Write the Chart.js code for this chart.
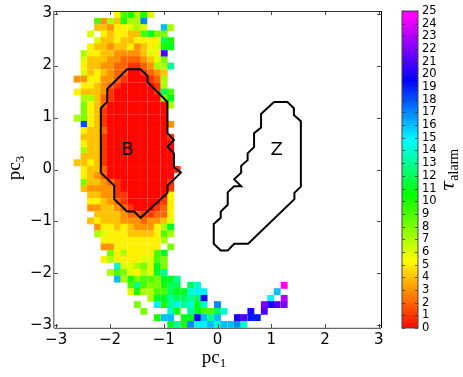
<!DOCTYPE html>
<html>
<head>
<meta charset="utf-8">
<title>tau alarm map</title>
<script src="https://cdn.jsdelivr.net/npm/chart.js@4/dist/chart.umd.min.js"></script>
<style>
  html, body { margin: 0; padding: 0; background: #fff; }
  #wrap { position: relative; width: 463px; height: 377px; overflow: hidden; }
  canvas { position: absolute; left: 0; top: 0; }
</style>
</head>
<body>
<div id="wrap">
  <canvas id="mapChart" width="463" height="377"></canvas>
  <canvas id="barChart" width="463" height="377"></canvas>
</div>
<script>
const _ = null;

const pc1Bins = [-2.98,-2.85,-2.73,-2.61,-2.48,-2.36,-2.23,-2.11,-1.99,-1.86,-1.74,-1.61,-1.49,-1.37,-1.24,-1.12,-.99,-.87,-.75,-.62,-.5,-.37,-.25,-.13,0,.12,.25,.37,.49,.62,.74,.87,.99,1.11,1.24,1.36,1.49,1.61,1.73,1.86,1.98,2.11,2.23,2.35,2.48,2.6,2.73,2.85,2.98];
const pc3Bins = [2.98,2.85,2.73,2.61,2.48,2.36,2.23,2.11,1.99,1.86,1.74,1.61,1.49,1.37,1.24,1.12,.99,.87,.75,.62,.5,.37,.25,.13,0,-.12,-.25,-.37,-.49,-.62,-.74,-.87,-.99,-1.11,-1.24,-1.36,-1.49,-1.61,-1.73,-1.86,-1.98,-2.11,-2.23,-2.35,-2.48,-2.6,-2.73,-2.85,-2.98];

// one row per pc3 bin (top to bottom), one entry per pc1 bin
const tauGrid = [
  [_,_,_,_,_,_,_,_,_,5,9,10,7,10,6],
  [_,_,_,_,_,_,9,3,7,4,10,7,7,17],
  [_,_,_,_,_,_,4,4,3,5,5,6,7,6,_,_,16,7],
  [_,_,_,_,_,6,_,5,4,5,5,4,4,9,11,8,8],
  [_,_,_,_,_,_,6,4,4,5,4,4,5,5,5,5,12,10],
  [_,_,_,_,_,5,4,4,3,4,4,5,3,4,5,6,10,11],
  [_,_,_,_,7,5,5,4,4,3,3,3,3,4,6,5,21],
  [_,_,_,_,6,4,4,4,3,3,2,2,2,3,4,6,8],
  [_,_,_,_,5,4,4,3,3,2,2,1,1,2,3,7,7,13],
  [_,_,_,_,6,4,5,4,3,2,2,0,0,1,2,3,4],
  [_,_,_,3,3,5,5,3,3,2,1,0,0,0,1,2,7],
  [_,_,_,_,5,5,4,3,2,1,0,0,0,0,0,1,7],
  [_,_,_,5,4,4,4,3,1,0,0,0,0,0,0,1,12,9],
  [_,_,_,_,7,7,4,2,1,0,0,0,0,0,0,0,8,11],
  [_,_,_,_,8,5,4,2,0,0,0,0,0,0,0,0,0,7],
  [_,_,_,_,8,5,4,1,0,0,0,0,0,0,0,0,0],
  [_,_,_,7,8,5,4,1,0,0,0,0,0,0,0,0,0],
  [_,_,_,_,18,5,4,1,0,0,0,0,0,0,0,0,0,3],
  [_,_,_,_,5,4,4,2,0,0,0,0,0,0,0,0,0],
  [_,_,_,_,4,4,4,1,0,0,0,0,0,0,0,0,0,1],
  [_,_,_,_,5,4,4,1,0,0,0,0,0,0,0,0,0,0],
  [_,_,_,_,7,4,4,1,0,0,0,0,0,0,0,0,0,0],
  [_,_,_,_,4,4,4,1,0,0,0,0,0,0,0,0,0,0],
  [_,_,_,4,4,5,4,1,0,0,0,0,0,0,0,0,0,0],
  [_,_,_,_,5,4,4,2,0,0,0,0,0,0,0,0,0,0,1],
  [_,_,_,_,5,4,3,2,0,0,0,0,0,0,0,0,0,0],
  [_,_,_,_,8,4,4,3,2,1,0,0,0,0,0,0,0,1],
  [_,_,_,_,4,3,3,3,3,1,0,0,0,0,0,0,0,1],
  [_,_,_,_,_,4,4,3,3,1,1,0,0,0,0,0,0,5],
  [_,_,_,_,_,5,5,4,3,2,1,0,0,0,0,0,1,5],
  [_,_,_,_,_,3,3,4,4,3,2,1,0,0,0,1,2,5],
  [_,_,_,_,_,_,4,4,4,4,3,2,2,1,1,2,2,5],
  [_,_,_,_,_,4,5,4,4,4,3,3,3,2,3,3,4,6],
  [_,_,_,_,_,_,3,5,5,4,5,4,3,3,3,5,7,11],
  [_,_,_,_,_,_,7,6,5,5,5,4,4,4,4,5,9,7],
  [_,_,_,_,_,_,_,5,5,5,5,5,5,5,5,5,7],
  [_,_,_,_,_,_,_,3,3,5,5,5,5,5,5,5,_,8],
  [_,_,_,_,_,_,_,_,8,5,7,5,5,5,5,9,11],
  [_,_,_,_,_,_,_,5,7,5,5,5,5,6,6,9,8],
  [_,_,_,_,_,_,_,_,_,14,6,6,7,8,6,11,8],
  [_,_,_,_,_,_,_,_,7,9,8,6,5,7,6,11,13],
  [_,_,_,_,_,_,_,_,_,16,7,10,8,9,9,8,11,11,13],
  [_,_,_,_,_,_,_,_,_,_,_,9,13,9,8,8,10,12,12,_,12,14,_,_,_,_,_,_,_,_,_,_,_,_,25],
  [_,_,_,_,_,_,_,_,_,_,_,6,10,7,7,9,9,12,11,11,14,15,15,_,_,_,_,_,_,_,_,_,_,16],
  [_,_,_,_,_,_,_,_,_,_,_,_,_,_,7,11,11,13,12,12,13,12,20,_,_,_,_,_,_,_,_,_,15,_,23],
  [_,_,_,_,_,_,_,_,_,_,_,_,8,_,_,15,10,13,15,13,14,11,14,_,17,_,_,_,_,_,_,22,20,21,22],
  [_,_,_,_,_,_,_,_,_,_,_,_,_,8,_,_,_,14,10,_,13,11,9,9,12,14,_,_,_,20,_,21],
  [_,_,_,_,_,_,_,_,_,_,_,_,_,_,_,10,16,16,_,11,11,20,16,13,16,_,_,20,21,19,19],
  [_,_,_,_,_,_,_,_,_,_,_,_,_,_,_,_,_,11,13,10,17,15,15,16,14,16,16,17,14]
];

const contourBX = [-1.68,-1.43,-1.3,-1.3,-.93,-.93,-.81,-.93,-.81,-.81,-.68,-.93,-.93,-1.43,-1.55,-1.68,-1.92,-1.92,-2.17,-2.17,-2.05,-2.05,-1.68];
const contourBY = [1.93,1.93,1.8,1.68,1.3,.7,.57,.44,.31,.05,-.06,-.31,-.45,-.93,-.81,-.81,-.57,-.31,-.06,1.18,1.3,1.55,1.93];
const contourZX = [1.05,1.3,1.42,1.42,1.55,1.55,1.43,1.43,.57,.31,.19,.06,-.07,-.07,.06,.06,.19,.19,.31,.44,.31,.44,.44,.56,.56,.68,.68,.81,.81,1.05];
const contourZY = [1.3,1.3,1.18,1.05,.93,-.33,-.45,-.57,-1.43,-1.43,-1.56,-1.56,-1.43,-1.05,-.93,-.81,-.68,-.44,-.32,-.32,-.19,-.06,.07,.18,.31,.43,.7,.81,1.07,1.3];

const axisTicks = [-3, -2, -1, 0, 1, 2, 3];
const barTicks = [0,1,2,3,4,5,6,7,8,9,10,11,12,13,14,15,16,17,18,19,20,21,22,23,24,25];

// colour map: tau value -> rgb
const mapValues = [0, 5.3, 10.5, 14.8, 19.5, 24.5, 25];
const mapColors = [[255,6,0],[255,255,0],[0,255,0],[0,255,255],[0,0,255],[255,0,255],[255,0,255]];

function tauColor(v) {
  let i = 0;
  while (i < mapValues.length - 2 && v > mapValues[i + 1]) i++;
  const t = (v - mapValues[i]) / (mapValues[i + 1] - mapValues[i]);
  const c = mapColors[i].map((a, k) => Math.round(a + (mapColors[i + 1][k] - a) * t));
  return `rgb(${c[0]},${c[1]},${c[2]})`;
}

const cellPoints = [];
const cellColors = [];
tauGrid.forEach((row, r) => {
  row.forEach((v, c) => {
    if (v === null) return;
    cellPoints.push({ x: pc1Bins[c], y: pc3Bins[r] });
    cellColors.push(tauColor(v));
  });
});

const toPoints = (xs, ys) => xs.map((x, i) => ({ x, y: ys[i] }));
const minusLabel = (v) => String(v).replace('-', '\u2212');

function drawMath(ctx, x, y, rot, base, baseFont, sub, subFont, drop) {
  ctx.save();
  ctx.translate(x, y);
  ctx.rotate(rot);
  ctx.fillStyle = '#000';
  ctx.textBaseline = 'alphabetic';
  ctx.textAlign = 'left';
  ctx.font = baseFont;
  const w1 = ctx.measureText(base).width;
  ctx.font = subFont;
  const w2 = ctx.measureText(sub).width;
  const start = -(w1 + w2) / 2;
  ctx.font = baseFont;
  ctx.fillText(base, start, 0);
  ctx.font = subFont;
  ctx.fillText(sub, start + w1, drop);
  ctx.restore();
}

// inward ticks and the box round the map, labels B and Z, axis names
const mapFrame = {
  id: 'mapFrame',
  afterDatasetsDraw(chart) {
    const { ctx, chartArea: a, scales: { x, y } } = chart;
    ctx.save();
    ctx.strokeStyle = '#222';
    ctx.lineWidth = 0.8;
    ctx.beginPath();
    axisTicks.forEach((t) => {
      const px = Math.round(x.getPixelForValue(t)) + 0.5;
      const py = Math.round(y.getPixelForValue(t)) + 0.5;
      ctx.moveTo(px, a.bottom); ctx.lineTo(px, a.bottom - 4);
      ctx.moveTo(px, a.top); ctx.lineTo(px, a.top + 4);
      ctx.moveTo(a.left, py); ctx.lineTo(a.left + 4, py);
      ctx.moveTo(a.right, py); ctx.lineTo(a.right - 4, py);
    });
    ctx.stroke();
    ctx.lineWidth = 1;
    ctx.strokeStyle = '#333';
    ctx.beginPath(); ctx.moveTo(a.left, a.top + 0.5); ctx.lineTo(a.right, a.top + 0.5); ctx.stroke();
    ctx.strokeStyle = '#000';
    ctx.beginPath(); ctx.moveTo(a.right + 0.5, a.top); ctx.lineTo(a.right + 0.5, a.bottom); ctx.stroke();
    ctx.strokeStyle = '#666';
    ctx.lineWidth = 1.3;
    ctx.beginPath(); ctx.moveTo(a.left, a.bottom + 0.3); ctx.lineTo(a.right, a.bottom + 0.3); ctx.stroke();
    ctx.strokeStyle = '#808080';
    ctx.lineWidth = 1.5;
    ctx.beginPath(); ctx.moveTo(a.left - 0.3, a.top); ctx.lineTo(a.left - 0.3, a.bottom); ctx.stroke();

    ctx.fillStyle = '#000';
    ctx.font = '18px "DejaVu Sans"';
    ctx.textAlign = 'center';
    ctx.textBaseline = 'middle';
    ctx.fillText('B', x.getPixelForValue(-1.67), y.getPixelForValue(0.37));
    ctx.fillText('Z', x.getPixelForValue(1.1), y.getPixelForValue(0.37));
    ctx.restore();

    drawMath(ctx, 214, 363, 0, 'pc', '19px "Liberation Serif"', '1', '13px "Liberation Serif"', 4);
    drawMath(ctx, 20, 168, -Math.PI / 2, 'pc', '19px "Liberation Serif"', '3', '13px "Liberation Serif"', 4);
  }
};

new Chart(document.getElementById('mapChart'), {
  type: 'scatter',
  data: {
    datasets: [
      {
        label: 'tau',
        order: 2,
        data: cellPoints,
        pointStyle: 'rect',
        pointRadius: 4.85,
        pointBorderWidth: 0,
        pointBackgroundColor: cellColors,
        showLine: false
      },
      {
        label: 'B',
        order: 1,
        data: toPoints(contourBX, contourBY),
        showLine: true,
        pointRadius: 0,
        borderColor: '#000',
        borderWidth: 2,
        tension: 0
      },
      {
        label: 'Z',
        order: 1,
        data: toPoints(contourZX, contourZY),
        showLine: true,
        pointRadius: 0,
        borderColor: '#000',
        borderWidth: 2,
        tension: 0
      }
    ]
  },
  options: {
    responsive: false,
    animation: false,
    events: [],
    layout: { padding: { left: 0, right: 82, top: 11, bottom: 0 } },
    plugins: { legend: { display: false }, tooltip: { enabled: false } },
    scales: {
      x: {
        type: 'linear',
        min: -3.04,
        max: 3.04,
        afterBuildTicks: (s) => { s.ticks = axisTicks.map((value) => ({ value })); },
        afterFit: (s) => { s.height = 49; },
        grid: { display: false, drawTicks: false },
        border: { display: false },
        ticks: {
          color: '#000',
          padding: 3,
          maxRotation: 0,
          font: { family: '"DejaVu Sans"', size: 15 },
          callback: minusLabel
        }
      },
      y: {
        type: 'linear',
        min: -3.05,
        max: 3.05,
        afterBuildTicks: (s) => { s.ticks = axisTicks.map((value) => ({ value })); },
        afterFit: (s) => { s.width = 54; },
        grid: { display: false, drawTicks: false },
        border: { display: false },
        ticks: {
          color: '#000',
          padding: 2,
          font: { family: '"DejaVu Sans"', size: 15 },
          callback: minusLabel
        }
      }
    }
  },
  plugins: [mapFrame]
});

// colour bar
const barFrame = {
  id: 'barFrame',
  afterDatasetsDraw(chart) {
    const { ctx, chartArea: a, scales: { y } } = chart;
    ctx.save();
    ctx.strokeStyle = '#333';
    ctx.lineWidth = 0.8;
    ctx.beginPath();
    barTicks.forEach((t) => {
      const py = Math.round(y.getPixelForValue(t)) + 0.5;
      ctx.moveTo(a.left, py); ctx.lineTo(a.left + 3, py);
      ctx.moveTo(a.right, py); ctx.lineTo(a.right - 3, py);
    });
    ctx.stroke();
    ctx.lineWidth = 1;
    ctx.strokeStyle = '#444';
    ctx.strokeRect(a.left, a.top, a.right - a.left, a.bottom - a.top);
    ctx.restore();
    drawMath(ctx, 454, 170, -Math.PI / 2, '\u03c4', 'italic 19px "DejaVu Serif"', 'alarm', '14px "Liberation Serif"', 4);
  }
};

function barGradient(ctx) {
  const { chart } = ctx;
  const a = chart.chartArea;
  if (!a) return '#f00';
  const g = chart.ctx.createLinearGradient(0, a.bottom, 0, a.top);
  mapValues.forEach((v) => g.addColorStop(v / 25, tauColor(v)));
  return g;
}

new Chart(document.getElementById('barChart'), {
  type: 'bar',
  data: {
    labels: ['tau'],
    datasets: [{ data: [[barTicks[0], barTicks[barTicks.length - 1]]], backgroundColor: barGradient }]
  },
  options: {
    responsive: false,
    animation: false,
    events: [],
    layout: { padding: { left: 402, right: 0, top: 11, bottom: 49 } },
    plugins: { legend: { display: false }, tooltip: { enabled: false } },
    datasets: { bar: { barPercentage: 1, categoryPercentage: 1 } },
    scales: {
      x: { display: false },
      y: {
        position: 'right',
        min: 0,
        max: 25,
        afterBuildTicks: (s) => { s.ticks = barTicks.map((value) => ({ value })); },
        afterFit: (s) => { s.width = 45; },
        grid: { display: false, drawTicks: false },
        border: { display: false },
        ticks: {
          color: '#000',
          padding: 4,
          autoSkip: false,
          font: { family: '"DejaVu Sans"', size: 11.5 }
        }
      }
    }
  },
  plugins: [barFrame]
});
</script>
</body>
</html>
